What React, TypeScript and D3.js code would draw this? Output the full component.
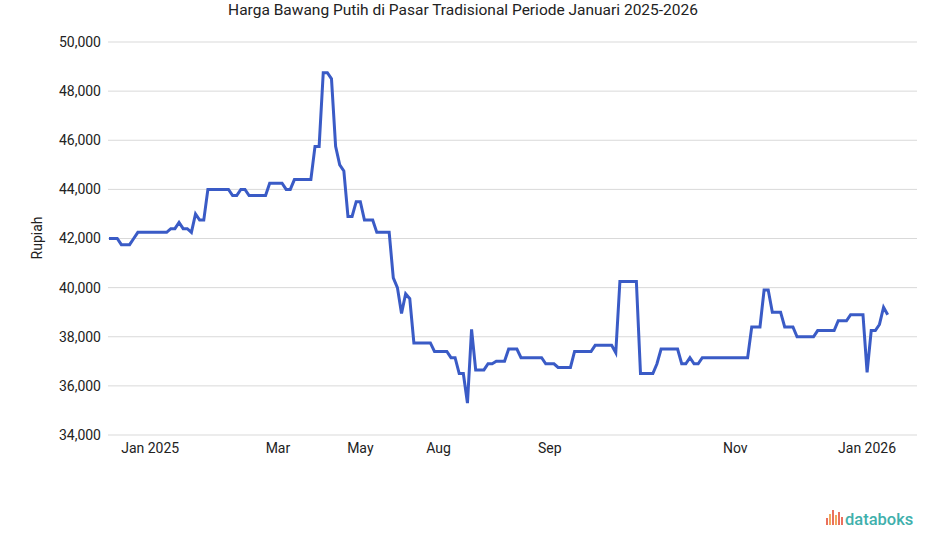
import React from "react";
import * as d3 from "d3";

const title = "Harga Bawang Putih di Pasar Tradisional Periode Januari 2025-2026";
const yLabel = "Rupiah";
const yTicks = [34000, 36000, 38000, 40000, 42000, 44000, 46000, 48000, 50000];
const tickLabels = ["Jan 2025", "Mar", "May", "Aug", "Sep", "Nov", "Jan 2026"];
const tickIndex = [10, 41, 61, 80, 107, 152, 184];
const prices = [
  42000, 42000, 42000, 41750, 41750, 41750, 42000, 42250, 42250, 42250,
  42250, 42250, 42250, 42250, 42250, 42400, 42400, 42650, 42400, 42400,
  42250, 43000, 42750, 42750, 44000, 44000, 44000, 44000, 44000, 44000,
  43750, 43750, 44000, 44000, 43750, 43750, 43750, 43750, 43750, 44250,
  44250, 44250, 44250, 44000, 44000, 44400, 44400, 44400, 44400, 44400,
  45750, 45750, 48750, 48750, 48500, 45750, 45000, 44750, 42900, 42900,
  43500, 43500, 42750, 42750, 42750, 42250, 42250, 42250, 42250, 40400,
  40000, 38950, 39750, 39550, 37750, 37750, 37750, 37750, 37750, 37400,
  37400, 37400, 37400, 37150, 37150, 36500, 36500, 35300, 38300, 36650,
  36650, 36650, 36900, 36900, 37000, 37000, 37000, 37500, 37500, 37500,
  37150, 37150, 37150, 37150, 37150, 37150, 36900, 36900, 36900, 36750,
  36750, 36750, 36750, 37400, 37400, 37400, 37400, 37400, 37650, 37650,
  37650, 37650, 37650, 37350, 40250, 40250, 40250, 40250, 40250, 36500,
  36500, 36500, 36500, 36900, 37500, 37500, 37500, 37500, 37500, 36900,
  36900, 37150, 36900, 36900, 37150, 37150, 37150, 37150, 37150, 37150,
  37150, 37150, 37150, 37150, 37150, 37150, 38400, 38400, 38400, 39900,
  39900, 39000, 39000, 39000, 38400, 38400, 38400, 38000, 38000, 38000,
  38000, 38000, 38250, 38250, 38250, 38250, 38250, 38650, 38650, 38650,
  38900, 38900, 38900, 38900, 36550, 38250, 38250, 38500, 39200, 38900,
];
const logoBars = [7, 11, 15, 10, 13, 8];
const logoColors = ["#e8604c", "#f0a04b", "#e8604c", "#f0a04b", "#e8604c", "#e8604c"];

const W = 925;
const H = 547;
const gridLeft = 108;
const gridRight = 917;

export default function App() {
  const x = d3.scaleLinear().domain([0, prices.length - 1]).range([109, 887.7]);
  const y = d3.scaleLinear().domain([34000, 50000]).range([435, 42]);
  const line = d3
    .line<number>()
    .x((_, i) => x(i))
    .y((d) => y(d));
  const fmt = d3.format(",");
  const font = "Roboto, 'Noto Sans', Arial, sans-serif";

  return (
    <svg
      width={W}
      height={H}
      style={{ position: "absolute", left: 0, top: 0, background: "#fff" }}
      fontFamily={font}
    >
      <rect width={W} height={H} fill="#fff" />
      <text x={463} y={15} textAnchor="middle" fontSize={15.5} fill="#222">
        {title}
      </text>
      {yTicks.map((t) => (
        <g key={t}>
          <line x1={gridLeft} x2={gridRight} y1={y(t)} y2={y(t)} stroke="#d9d9d9" strokeWidth={1} />
          <text x={101} y={y(t)} dy="0.35em" textAnchor="end" fontSize={14} fill="#222">
            {fmt(t)}
          </text>
        </g>
      ))}
      <text
        transform={`translate(42,238) rotate(-90)`}
        textAnchor="middle"
        fontSize={14}
        fill="#222"
      >
        {yLabel}
      </text>
      {tickLabels.map((l, i) => (
        <text key={l} x={x(tickIndex[i])} y={453} textAnchor="middle" fontSize={14} fill="#222">
          {l}
        </text>
      ))}
      <path d={line(prices) || ""} fill="none" stroke="#3a5bc6" strokeWidth={3} strokeLinejoin="miter" />
      <g>
        {logoBars.map((h, i) => (
          <rect
            key={i}
            x={826 + i * 3}
            y={525 - h}
            width={2}
            height={h}
            fill={logoColors[i]}
            opacity={0.9}
          />
        ))}
        <text x={845} y={525} fontSize={16.5} fontWeight={500} fill="#3fb0ac">
          databoks
        </text>
      </g>
    </svg>
  );
}
